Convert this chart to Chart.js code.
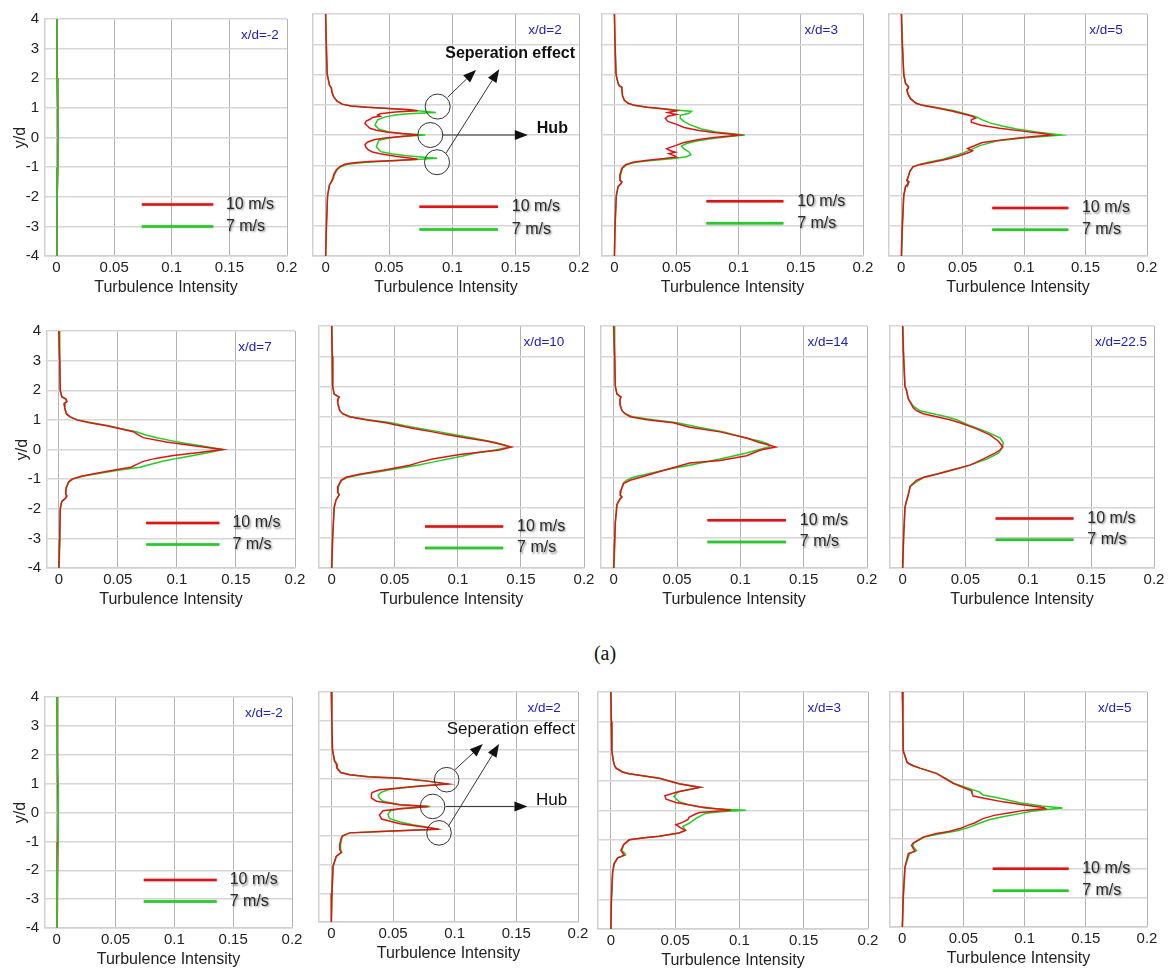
<!DOCTYPE html>
<html>
<head>
<meta charset="utf-8">
<script src="https://cdn.jsdelivr.net/npm/chart.js@4.4.1/dist/chart.umd.min.js"></script>
<style>
  body { margin:0; background:#fff; width:1170px; height:971px; position:relative; overflow:hidden; }
  #caption { position:absolute; left:0; width:1210px; top:642px; text-align:center;
             font:20px "Liberation Serif", "Times New Roman", serif; color:#111; }
</style>
</head>
<body>
<div id="caption">(a)</div>
<script>
// ===================================================
// DATA  (each profile is a list of [y/d, turbulence intensity])
// ===================================================
const X_TICKS = [0, 0.05, 0.1, 0.15, 0.2];
const SERIES = ['10 m/s', '7 m/s'];
const STATIONS = ['x/d=-2','x/d=2','x/d=3','x/d=5','x/d=7','x/d=10','x/d=14','x/d=22.5','x/d=-2','x/d=2','x/d=3','x/d=5'];

// ---- (a) upper two rows ----
const a_m2_10 = [[4,0.0004],[2,0.0006],[1,0.0011],[0,0.0014],[-1,0.0011],[-2,0.0006],[-4,0.0004]];
const a_m2_7  = [[4,0.0004],[2,0.0006],[1,0.0012],[0,0.0015],[-1,0.0012],[-2,0.0006],[-4,0.0004]];

const a_2_10 = [[4,0],[3,0.0005],[2,0.0012],[1.65,0.003],[1.55,0.0045],[1.4,0.005],[1.25,0.0065],[1.12,0.009],[1.02,0.013],[0.96,0.02],[0.92,0.032],[0.88,0.05],[0.84,0.065],[0.8,0.0726],[0.76,0.055],[0.7,0.043],[0.66,0.041],[0.62,0.043],[0.58,0.037],[0.52,0.035],[0.46,0.032],[0.38,0.031],[0.3,0.033],[0.22,0.035],[0.16,0.04],[0.1,0.048],[0.05,0.06],[0,0.0726],[-0.05,0.06],[-0.1,0.047],[-0.16,0.038],[-0.24,0.033],[-0.32,0.031],[-0.42,0.032],[-0.5,0.034],[-0.56,0.037],[-0.62,0.043],[-0.7,0.055],[-0.76,0.066],[-0.8,0.0726],[-0.84,0.055],[-0.88,0.035],[-0.92,0.022],[-0.97,0.015],[-1.05,0.011],[-1.15,0.0085],[-1.3,0.0065],[-1.45,0.0055],[-1.55,0.0045],[-1.65,0.003],[-2,0.0015],[-3,0.0006],[-4,0]];
const a_2_7 = [[4,0],[3,0.0005],[2,0.0012],[1.65,0.003],[1.55,0.0045],[1.4,0.005],[1.25,0.0065],[1.12,0.009],[1.02,0.013],[0.96,0.02],[0.9,0.04],[0.85,0.058],[0.79,0.075],[0.74,0.087],[0.7,0.065],[0.66,0.055],[0.6,0.047],[0.5,0.041],[0.33,0.039],[0.19,0.042],[0.1,0.05],[0.05,0.06],[0,0.0786],[-0.05,0.06],[-0.1,0.05],[-0.17,0.042],[-0.39,0.04],[-0.55,0.0435],[-0.62,0.052],[-0.68,0.062],[-0.73,0.075],[-0.77,0.088],[-0.82,0.068],[-0.86,0.05],[-0.91,0.03],[-0.97,0.017],[-1.05,0.012],[-1.15,0.009],[-1.3,0.007],[-1.45,0.006],[-1.55,0.0045],[-1.65,0.003],[-2,0.0015],[-3,0.0006],[-4,0]];

const a_3_10 = [[4,0],[3,0.0005],[2,0.0013],[1.7,0.003],[1.62,0.004],[1.58,0.006],[1.5,0.006],[1.3,0.0065],[1.15,0.008],[1.05,0.011],[0.98,0.016],[0.92,0.026],[0.86,0.04],[0.8,0.05],[0.74,0.043],[0.68,0.05],[0.62,0.043],[0.55,0.041],[0.45,0.043],[0.35,0.05],[0.25,0.056],[0.15,0.068],[0.08,0.08],[0.03,0.093],[0,0.0999],[-0.03,0.093],[-0.08,0.08],[-0.15,0.068],[-0.25,0.056],[-0.35,0.049],[-0.45,0.042],[-0.52,0.045],[-0.57,0.049],[-0.62,0.044],[-0.68,0.048],[-0.73,0.05],[-0.78,0.04],[-0.84,0.025],[-0.9,0.015],[-0.98,0.009],[-1.1,0.006],[-1.3,0.0045],[-1.5,0.0045],[-1.55,0.006],[-1.62,0.005],[-1.7,0.003],[-2,0.0015],[-3,0.0005],[-4,0]];
const a_3_7 = [[4,0],[3,0.0005],[2,0.0013],[1.7,0.003],[1.62,0.004],[1.58,0.006],[1.5,0.006],[1.3,0.0065],[1.15,0.008],[1.05,0.011],[0.98,0.016],[0.92,0.027],[0.86,0.042],[0.82,0.052],[0.78,0.062],[0.72,0.06],[0.65,0.053],[0.55,0.053],[0.45,0.056],[0.35,0.06],[0.2,0.07],[0.1,0.082],[0.04,0.095],[0,0.1047],[-0.04,0.095],[-0.1,0.082],[-0.18,0.068],[-0.28,0.058],[-0.36,0.054],[-0.46,0.056],[-0.56,0.06],[-0.65,0.0615],[-0.72,0.058],[-0.78,0.048],[-0.84,0.03],[-0.9,0.017],[-0.98,0.01],[-1.1,0.0065],[-1.3,0.005],[-1.5,0.0045],[-1.55,0.006],[-1.62,0.005],[-1.7,0.003],[-2,0.0015],[-3,0.0005],[-4,0]];

const a_5_10 = [[4,0],[3,0.0008],[2,0.002],[1.7,0.0035],[1.62,0.0055],[1.55,0.0058],[1.5,0.0045],[1.35,0.0055],[1.2,0.0075],[1.05,0.012],[0.98,0.017],[0.9,0.028],[0.8,0.04],[0.7,0.05],[0.62,0.058],[0.56,0.0605],[0.5,0.057],[0.42,0.057],[0.32,0.065],[0.22,0.08],[0.12,0.1],[0.05,0.115],[0,0.122],[-0.05,0.108],[-0.12,0.09],[-0.25,0.066],[-0.38,0.058],[-0.45,0.054],[-0.52,0.058],[-0.58,0.055],[-0.7,0.046],[-0.8,0.037],[-0.9,0.025],[-0.98,0.015],[-1.05,0.0095],[-1.2,0.007],[-1.4,0.0055],[-1.5,0.0045],[-1.55,0.0062],[-1.62,0.0055],[-1.7,0.0035],[-2,0.002],[-3,0.0008],[-4,0]];
const a_5_7 = [[4,0.0003],[3,0.001],[2,0.002],[1.7,0.0035],[1.62,0.0055],[1.55,0.0058],[1.5,0.0045],[1.35,0.0055],[1.2,0.0075],[1.05,0.012],[0.98,0.018],[0.9,0.03],[0.8,0.043],[0.7,0.052],[0.6,0.061],[0.5,0.066],[0.4,0.072],[0.3,0.082],[0.2,0.094],[0.1,0.11],[0.04,0.122],[0,0.13],[-0.04,0.118],[-0.1,0.099],[-0.2,0.0773],[-0.35,0.064],[-0.5,0.0556],[-0.6,0.05],[-0.7,0.042],[-0.8,0.034],[-0.9,0.022],[-0.98,0.014],[-1.05,0.0095],[-1.2,0.007],[-1.4,0.0055],[-1.5,0.0045],[-1.55,0.006],[-1.62,0.0055],[-1.7,0.0035],[-2,0.002],[-3,0.001],[-4,0.0003]];

const a_7_10 = [[4,0],[3,0.0008],[2,0.0012],[1.78,0.0025],[1.7,0.006],[1.62,0.0068],[1.55,0.0045],[1.4,0.005],[1.2,0.0065],[1.1,0.0096],[1,0.015],[0.9,0.026],[0.8,0.0406],[0.7,0.052],[0.6,0.063],[0.5,0.067],[0.4,0.0715],[0.25,0.091],[0.1,0.119],[0,0.1386],[-0.1,0.119],[-0.2,0.097],[-0.3,0.082],[-0.4,0.0715],[-0.5,0.066],[-0.6,0.061],[-0.7,0.046],[-0.8,0.032],[-0.9,0.019],[-1,0.011],[-1.1,0.0082],[-1.3,0.0062],[-1.5,0.0058],[-1.57,0.0068],[-1.65,0.0055],[-1.75,0.0025],[-2,0.0012],[-3,0.0008],[-4,0]];
const a_7_7 = [[4,0.0003],[3,0.0008],[2,0.0012],[1.78,0.0025],[1.7,0.006],[1.62,0.0068],[1.55,0.0045],[1.4,0.005],[1.2,0.0065],[1.1,0.0096],[1,0.016],[0.9,0.028],[0.8,0.042],[0.7,0.053],[0.6,0.0655],[0.5,0.073],[0.4,0.083],[0.3,0.095],[0.2,0.108],[0.1,0.124],[0,0.139],[-0.1,0.127],[-0.2,0.1138],[-0.3,0.1],[-0.4,0.088],[-0.5,0.078],[-0.6,0.0687],[-0.7,0.05],[-0.8,0.035],[-0.9,0.02],[-1,0.012],[-1.1,0.0085],[-1.3,0.0062],[-1.5,0.0058],[-1.57,0.0068],[-1.65,0.0055],[-1.75,0.0025],[-2,0.0012],[-3,0.0008],[-4,0.0003]];

const a_10_10 = [[4,0],[3,0.0005],[2,0.0008],[1.75,0.002],[1.65,0.006],[1.58,0.005],[1.45,0.0048],[1.2,0.0065],[1.1,0.0087],[1,0.014],[0.9,0.027],[0.8,0.043],[0.7,0.054],[0.6,0.066],[0.5,0.08],[0.4,0.093],[0.3,0.107],[0.2,0.1226],[0.1,0.133],[0,0.1425],[-0.1,0.133],[-0.25,0.1015],[-0.4,0.08],[-0.5,0.07],[-0.6,0.062],[-0.75,0.043],[-0.9,0.022],[-1,0.0115],[-1.1,0.0075],[-1.3,0.005],[-1.5,0.0048],[-1.58,0.006],[-1.65,0.005],[-1.75,0.0035],[-2,0.002],[-3,0.0008],[-4,0]];
const a_10_7 = [[4,0.0003],[3,0.0006],[2,0.001],[1.75,0.002],[1.65,0.006],[1.58,0.005],[1.45,0.0048],[1.2,0.0065],[1.1,0.009],[1,0.015],[0.9,0.029],[0.8,0.0472],[0.7,0.058],[0.6,0.071],[0.5,0.0856],[0.4,0.099],[0.3,0.112],[0.15,0.13],[0.07,0.137],[0,0.1407],[-0.1,0.13],[-0.2,0.114],[-0.3,0.104],[-0.5,0.08],[-0.6,0.068],[-0.7,0.054],[-0.8,0.04],[-0.9,0.0246],[-1,0.0127],[-1.1,0.008],[-1.3,0.0055],[-1.5,0.005],[-1.58,0.006],[-1.65,0.005],[-1.75,0.0035],[-2,0.002],[-3,0.0008],[-4,0.0003]];

const a_14_10 = [[4,0],[3,0.0008],[2,0.0013],[1.75,0.0026],[1.65,0.0058],[1.58,0.005],[1.4,0.005],[1.2,0.0066],[1.1,0.009],[1,0.013],[0.9,0.026],[0.8,0.047],[0.65,0.06],[0.5,0.084],[0.3,0.105],[0.15,0.115],[0.05,0.124],[0,0.1278],[-0.1,0.116],[-0.29,0.105],[-0.45,0.084],[-0.53,0.06],[-0.62,0.0525],[-0.78,0.039],[-0.94,0.026],[-1.1,0.013],[-1.2,0.008],[-1.45,0.0055],[-1.59,0.0052],[-1.65,0.0065],[-1.72,0.005],[-1.9,0.0026],[-2.5,0.0013],[-4,0]];
const a_14_7 = [[4,0.0003],[3,0.0008],[2,0.0013],[1.75,0.0026],[1.65,0.0058],[1.58,0.005],[1.4,0.005],[1.2,0.0066],[1.1,0.009],[1,0.015],[0.9,0.031],[0.8,0.05],[0.65,0.067],[0.5,0.087],[0.3,0.104],[0.2,0.115],[0.1,0.122],[0.03,0.123],[0,0.1229],[-0.05,0.118],[-0.2,0.105],[-0.4,0.084],[-0.6,0.06],[-0.7,0.047],[-0.85,0.031],[-1,0.0155],[-1.1,0.01],[-1.2,0.0075],[-1.45,0.0058],[-1.59,0.0052],[-1.65,0.0065],[-1.72,0.005],[-1.9,0.0026],[-2.5,0.0013],[-4,0.0003]];

const a_22_10 = [[4,0],[3,0.0008],[2,0.0019],[1.9,0.003],[1.6,0.0045],[1.5,0.0058],[1.3,0.0085],[1.2,0.011],[1.1,0.0164],[1,0.027],[0.9,0.0377],[0.8,0.0456],[0.6,0.059],[0.4,0.0695],[0.2,0.076],[0.1,0.078],[0,0.0796],[-0.1,0.0775],[-0.2,0.0735],[-0.4,0.064],[-0.6,0.0536],[-0.75,0.04],[-0.9,0.027],[-1,0.017],[-1.1,0.011],[-1.3,0.006],[-1.6,0.0045],[-1.8,0.003],[-2,0.0019],[-3,0.0008],[-4,0]];
const a_22_7 = [[4,0.0003],[3,0.0008],[2,0.0019],[1.9,0.003],[1.6,0.0045],[1.5,0.006],[1.35,0.0085],[1.2,0.0138],[1.1,0.0244],[1,0.035],[0.9,0.043],[0.7,0.054],[0.5,0.067],[0.3,0.0775],[0.15,0.08],[0,0.0796],[-0.2,0.0763],[-0.4,0.067],[-0.6,0.0536],[-0.8,0.036],[-1,0.017],[-1.15,0.011],[-1.3,0.0062],[-1.6,0.0042],[-1.8,0.003],[-2,0.0019],[-3,0.0008],[-4,0.0003]];

// ---- lower row ----
const b_m2_10 = [[4,0.0003],[2,0.0005],[1,0.001],[0,0.0013],[-1,0.001],[-2,0.0005],[-4,0.0003]];
const b_m2_7  = [[4,0.0003],[2,0.0005],[1,0.0011],[0,0.0014],[-1,0.0011],[-2,0.0005],[-4,0.0003]];

const b_2_10 = [[4,0],[3,0.0004],[2,0.0009],[1.6,0.0025],[1.5,0.004],[1.35,0.0045],[1.2,0.0075],[1.12,0.0149],[1.05,0.03],[1,0.0556],[0.9,0.078],[0.8,0.0949],[0.72,0.07],[0.66,0.0556],[0.6,0.039],[0.5,0.033],[0.43,0.0325],[0.31,0.0325],[0.2,0.0366],[0.08,0.0556],[0.02,0.0786],[-0.06,0.0556],[-0.13,0.042],[-0.27,0.039],[-0.42,0.0407],[-0.58,0.0556],[-0.68,0.072],[-0.77,0.0875],[-0.8,0.07],[-0.85,0.04],[-0.9,0.0149],[-1,0.009],[-1.08,0.0081],[-1.3,0.0068],[-1.48,0.0068],[-1.58,0.0081],[-1.65,0.006],[-1.72,0.004],[-2.06,0.0014],[-3,0.0005],[-4,0]];
const b_2_7 = [[4,0],[3,0.0004],[2,0.0009],[1.6,0.0028],[1.5,0.0045],[1.35,0.005],[1.2,0.0078],[1.12,0.0149],[1.05,0.03],[1,0.0556],[0.9,0.078],[0.8,0.093],[0.72,0.07],[0.66,0.0556],[0.6,0.046],[0.5,0.04],[0.4,0.038],[0.3,0.039],[0.2,0.042],[0.08,0.0556],[0.02,0.0802],[-0.06,0.0556],[-0.13,0.048],[-0.25,0.046],[-0.4,0.047],[-0.52,0.0556],[-0.62,0.066],[-0.7,0.078],[-0.77,0.086],[-0.8,0.07],[-0.85,0.04],[-0.9,0.0149],[-1,0.0095],[-1.08,0.0085],[-1.3,0.0075],[-1.48,0.0075],[-1.58,0.0085],[-1.65,0.006],[-1.72,0.004],[-2.06,0.0014],[-3,0.0005],[-4,0]];

const b_3_10 = [[4,0],[3,0.0004],[2,0.0008],[1.7,0.0018],[1.5,0.003],[1.43,0.0039],[1.3,0.009],[1.24,0.0143],[1.09,0.0377],[0.9,0.053],[0.78,0.0694],[0.7,0.06],[0.64,0.053],[0.5,0.042],[0.38,0.043],[0.27,0.0506],[0.13,0.069],[0.06,0.082],[0.02,0.0935],[-0.03,0.08],[-0.07,0.069],[-0.12,0.066],[-0.22,0.061],[-0.3,0.06],[-0.4,0.0558],[-0.48,0.0506],[-0.58,0.054],[-0.67,0.058],[-0.76,0.053],[-0.87,0.0377],[-0.92,0.026],[-0.99,0.0143],[-1.15,0.01],[-1.35,0.0078],[-1.45,0.0095],[-1.5,0.0104],[-1.55,0.008],[-1.6,0.0052],[-1.8,0.0025],[-2.1,0.0013],[-3,0.0004],[-4,0]];
const b_3_7 = [[4,0],[3,0.0004],[2,0.0008],[1.7,0.0018],[1.5,0.003],[1.43,0.0045],[1.3,0.009],[1.24,0.0143],[1.09,0.0377],[0.9,0.053],[0.78,0.0694],[0.7,0.06],[0.62,0.052],[0.47,0.049],[0.3,0.053],[0.19,0.061],[0.08,0.074],[0.04,0.088],[0.01,0.105],[-0.04,0.085],[-0.09,0.074],[-0.26,0.0665],[-0.43,0.061],[-0.54,0.056],[-0.67,0.058],[-0.76,0.053],[-0.87,0.0377],[-0.92,0.026],[-0.99,0.0143],[-1.15,0.01],[-1.35,0.0085],[-1.45,0.011],[-1.5,0.0115],[-1.55,0.009],[-1.6,0.0055],[-1.8,0.0027],[-2.1,0.0014],[-3,0.0005],[-4,0]];

const b_5_10 = [[4,0],[3,0.0005],[2,0.0008],[1.6,0.004],[1.55,0.006],[1.49,0.009],[1.4,0.015],[1.23,0.028],[1.05,0.035],[0.89,0.0416],[0.75,0.05],[0.64,0.0566],[0.55,0.057],[0.46,0.058],[0.36,0.07],[0.26,0.0824],[0.15,0.1],[0.07,0.115],[0.03,0.117],[-0.03,0.1],[-0.11,0.088],[-0.2,0.075],[-0.31,0.066],[-0.46,0.059],[-0.55,0.053],[-0.65,0.047],[-0.75,0.038],[-0.82,0.028],[-0.94,0.017],[-1.14,0.009],[-1.22,0.0076],[-1.32,0.009],[-1.42,0.0103],[-1.5,0.005],[-1.97,0.0022],[-3,0.0008],[-4,0]];
const b_5_7 = [[4,0.0003],[3,0.0006],[2,0.0009],[1.6,0.004],[1.55,0.006],[1.49,0.009],[1.4,0.015],[1.23,0.028],[1.05,0.036],[0.89,0.0425],[0.75,0.052],[0.6,0.063],[0.49,0.066],[0.4,0.078],[0.23,0.096],[0.12,0.114],[0.05,0.131],[0,0.118],[-0.07,0.105],[-0.14,0.096],[-0.25,0.082],[-0.34,0.0716],[-0.47,0.063],[-0.6,0.055],[-0.72,0.045],[-0.84,0.029],[-0.94,0.018],[-1.14,0.0095],[-1.22,0.0085],[-1.32,0.01],[-1.4,0.0117],[-1.5,0.006],[-1.97,0.0022],[-3,0.0008],[-4,0.0003]];

const PROFILES_10 = [a_m2_10, a_2_10, a_3_10, a_5_10, a_7_10, a_10_10, a_14_10, a_22_10, b_m2_10, b_2_10, b_3_10, b_5_10];
const PROFILES_7  = [a_m2_7,  a_2_7,  a_3_7,  a_5_7,  a_7_7,  a_10_7,  a_14_7,  a_22_7,  b_m2_7,  b_2_7,  b_3_7,  b_5_7];

// ===================================================
// LAYOUT  (plot box of every panel: left, top, right, bottom in page px)
// ===================================================
const PLOT_BOXES = [
  [45,14,287,256],[313,14,579,256],[602,14,863,256],[889,14,1147,256],
  [47,326,295,568],[319,326,584,568],[601,326,867,568],[890,326,1154,568],
  [45,692,292,928],[319,692,578,922],[598,692,868,929],[890,692,1147,927]
];
// legend rows (y/d of the red and green sample line); null = no legend
const LEGEND_Y = [[-2.26,-3.0],[-2.37,-3.12],[-2.19,-2.92],[-2.41,-3.13],
                  [-2.48,-3.21],[-2.63,-3.34],[-2.42,-3.14],[-2.36,-3.07],
                  [-2.34,-3.08],null,null,[-2.02,-2.77]];
const LABEL_X = [0.16,0.16,0.153,0.153, 0.152,0.152,0.153,0.153, 0.16,0.159,0.153,0.16];

// x/d=2 call-outs (top row bold, bottom row regular)
const CALLOUTS = {
  1: { bold:true, size:16, r:12.5,
       circles:[[0.0884,0.94],[0.0826,0],[0.0879,-0.90]],
       arrows:[[[0.0963,1.25],[0.1187,2.15]],[[0.095,-0.6],[0.137,2.17]],[[0.0923,0],[0.1596,0]]],
       texts:[['Seperation effect',0.0944,2.70],['Hub',0.1667,0.22]] },
  9: { bold:false, size:17, r:12.3,
       circles:[[0.0935,0.95],[0.0821,0.02],[0.0873,-0.9]],
       arrows:[[[0.1003,1.3],[0.1228,2.19]],[[0.0949,-0.67],[0.136,2.19]],[[0.0927,0.02],[0.159,0.02]]],
       texts:[['Seperation effect',0.0935,2.71],['Hub',0.166,0.24]] }
};

const RED = '#e01414', GREEN = '#22cc22';
const FONT = '"Liberation Sans", Arial, Helvetica, sans-serif';
Chart.defaults.font.family = FONT;
Chart.defaults.color = '#222';

const toPts = arr => arr.map(([yd, ti]) => ({x: ti, y: yd}));

// ===================================================
// OVERLAY PLUGIN: station label, in-plot legend, call-outs
// ===================================================
function arrow(ctx, x1, y1, x2, y2) {
  const a = Math.atan2(y2 - y1, x2 - x1), L = 13, W = 5;
  const bx = x2 - L * Math.cos(a), by = y2 - L * Math.sin(a);
  ctx.beginPath(); ctx.moveTo(x1, y1); ctx.lineTo(bx, by); ctx.stroke();
  ctx.beginPath();
  ctx.moveTo(x2, y2);
  ctx.lineTo(bx + W * Math.sin(a), by - W * Math.cos(a));
  ctx.lineTo(bx - W * Math.sin(a), by + W * Math.cos(a));
  ctx.closePath(); ctx.fill();
}

const overlay = {
  id: 'overlay',
  afterDatasetsDraw(chart, args, o) {
    const {ctx, scales: {x, y}} = chart;
    ctx.save();
    ctx.textBaseline = 'middle';
    ctx.textAlign = 'left';
    // station
    ctx.font = '13.5px ' + FONT;
    ctx.fillStyle = '#2020c0';
    ctx.fillText(o.station, x.getPixelForValue(o.labelX), y.getPixelForValue(3.45));
    // legend
    if (o.legend) {
      const x1 = x.getPixelForValue(0.074), x2 = x.getPixelForValue(0.136), tx = x.getPixelForValue(0.147);
      [[SERIES[0], RED, o.legend[0]], [SERIES[1], GREEN, o.legend[1]]].forEach(([lab, col, yv]) => {
        const py = y.getPixelForValue(yv);
        ctx.save();
        ctx.shadowColor = 'rgba(0,0,0,0.35)'; ctx.shadowBlur = 1.5;
        ctx.strokeStyle = col; ctx.lineWidth = 2.5;
        ctx.beginPath(); ctx.moveTo(x1, py); ctx.lineTo(x2, py); ctx.stroke();
        ctx.shadowColor = 'rgba(0,0,0,0.45)'; ctx.shadowBlur = 2; ctx.shadowOffsetX = 1.2; ctx.shadowOffsetY = 1.2;
        ctx.font = '16px ' + FONT; ctx.fillStyle = '#2b2b2b';
        ctx.fillText(lab, tx, py);
        ctx.restore();
      });
    }
    // call-outs
    const c = o.callout;
    if (c) {
      ctx.strokeStyle = '#333'; ctx.fillStyle = '#111'; ctx.lineWidth = 1;
      c.circles.forEach(([cx, cy]) => {
        ctx.beginPath();
        ctx.arc(x.getPixelForValue(cx), y.getPixelForValue(cy), c.r, 0, Math.PI * 2);
        ctx.stroke();
      });
      c.arrows.forEach(([[ax, ay], [bx, by]]) => {
        arrow(ctx, x.getPixelForValue(ax), y.getPixelForValue(ay), x.getPixelForValue(bx), y.getPixelForValue(by));
      });
      ctx.font = (c.bold ? 'bold ' : '') + c.size + 'px ' + FONT;
      ctx.fillStyle = '#111';
      c.texts.forEach(([t, tx, ty]) => ctx.fillText(t, x.getPixelForValue(tx), y.getPixelForValue(ty)));
    }
    ctx.restore();
  }
};

// ===================================================
// BUILD PANELS
// ===================================================
PLOT_BOXES.forEach((box, i) => {
  const [L, T, R, B] = box;
  const first = i % 4 === 0;
  const yW = first ? 45 : 0, padL = first ? 0 : 6, padT = 10, padR = 16, xH = 44;
  const w = (R - L) + yW + padL + padR, h = (B - T) + padT + xH;
  const cv = document.createElement('canvas');
  cv.width = w; cv.height = h;
  cv.style.cssText = `position:absolute;left:${L - yW - padL}px;top:${T - padT}px;width:${w}px;height:${h}px`;
  document.body.appendChild(cv);

  const greenTop = STATIONS[i] === 'x/d=-2';
  new Chart(cv, {
    type: 'scatter',
    data: {
      datasets: [
        {label: SERIES[0], data: toPts(PROFILES_10[i]), showLine: true, borderColor: RED, borderWidth: 1.5,
         pointRadius: 0, tension: 0, order: greenTop ? 1 : 0},
        {label: SERIES[1], data: toPts(PROFILES_7[i]), showLine: true, borderColor: GREEN, borderWidth: 1.5,
         pointRadius: 0, tension: 0, order: greenTop ? 0 : 1}
      ]
    },
    options: {
      responsive: false, animation: false, devicePixelRatio: 1,
      layout: {padding: {left: padL, top: padT, right: padR, bottom: 0}},
      plugins: {
        legend: {display: false}, tooltip: {enabled: false},
        overlay: {station: STATIONS[i], labelX: LABEL_X[i], legend: LEGEND_Y[i], callout: CALLOUTS[i] || null}
      },
      scales: {
        x: {
          type: 'linear', min: -0.01, max: 0.2,
          afterBuildTicks: s => { s.ticks = X_TICKS.map(v => ({value: v})); },
          afterFit: s => { s.height = xH; },
          ticks: {padding: 3, font: {size: 15}, color: '#222', callback: v => String(v)},
          grid: {color: '#b4b4b4', lineWidth: 1, drawTicks: false},
          border: {color: '#d0d0d0', width: 1.5},
          title: {display: true, text: 'Turbulence Intensity', font: {size: 16}, color: '#222', padding: {top: 0, bottom: 3}}
        },
        y: {
          type: 'linear', min: -4, max: 4,
          afterFit: s => { s.width = yW; },
          ticks: {display: first, stepSize: 1, padding: 6, font: {size: 15}, color: '#222'},
          grid: {color: '#d6d6d6', lineWidth: 1.5, drawTicks: false},
          border: {color: '#d0d0d0', width: 1.5},
          title: {display: first, text: 'y/d', font: {size: 16}, color: '#222', padding: {top: 11, bottom: 0}}
        }
      }
    },
    plugins: [overlay]
  });
});
</script>
</body>
</html>
